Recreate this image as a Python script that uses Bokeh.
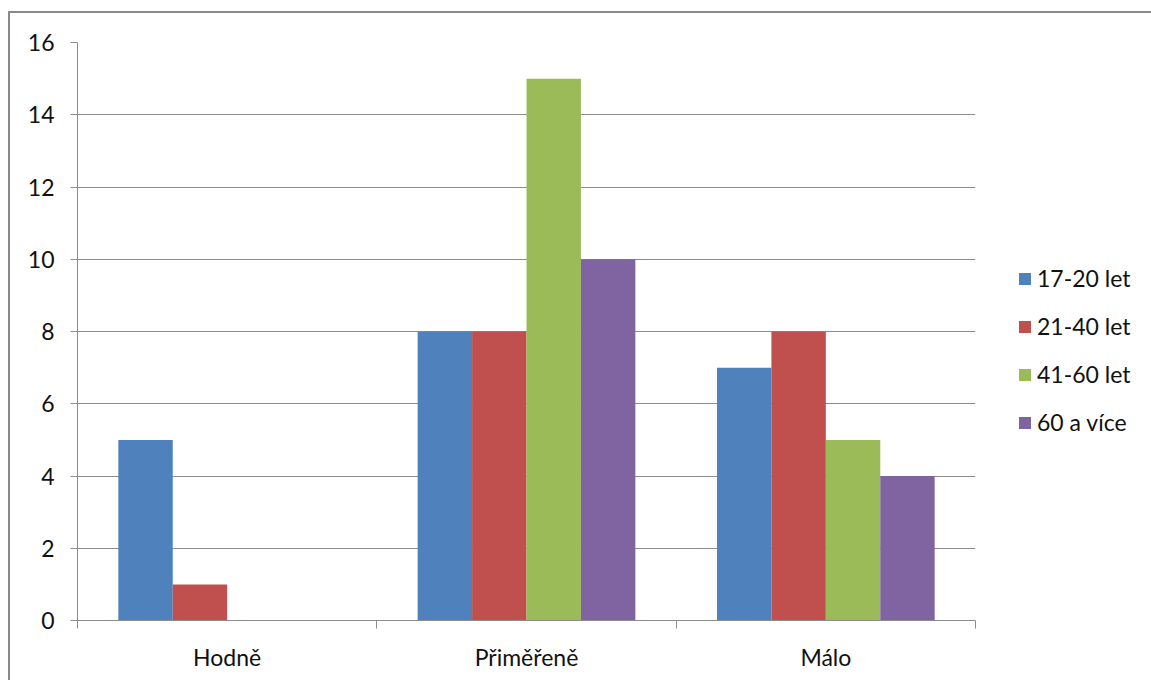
import numpy as np
from bokeh.plotting import figure
from bokeh.models import (ColumnDataSource, FixedTicker, Legend, LegendItem,
                          Range1d, InlineStyleSheet)
from bokeh.embed import file_html
from bokeh.resources import INLINE

categories = ["Hodně", "Přiměřeně", "Málo"]
series_names = ["17-20 let", "21-40 let", "41-60 let", "60 a více"]
v_17_20 = [5, 8, 7]
v_21_40 = [1, 8, 8]
v_41_60 = [0, 15, 5]
v_60_plus = [0, 10, 4]
y_ticks = [0, 2, 4, 6, 8, 10, 12, 14, 16]

series_values = [v_17_20, v_21_40, v_41_60, v_60_plus]
colors = ["#4F81BD", "#C0504D", "#9BBB59", "#8064A2"]

FONT = "Lato"
TEXT = "#111111"
GRID = "#8c8c8c"
FS = "23px"

p = figure(frame_width=898, frame_height=578, output_backend="svg",
           toolbar_location=None,
           x_range=Range1d(0, len(categories)), y_range=Range1d(0, 16),
           min_border_left=77, min_border_right=176, min_border_top=42,
           min_border_bottom=60)
p.outline_line_color = None
p.background_fill_color = "white"
p.border_fill_color = "white"

# gap width 150% between groups, as in a clustered column chart
n = len(series_values)
bar_w = 1.0 / (n + 1.5)
centers = np.arange(len(categories)) + 0.5

items = []
for j, (name, vals, col) in enumerate(zip(series_names, series_values, colors)):
    src = ColumnDataSource(dict(x=centers + (j - (n - 1) / 2) * bar_w, top=vals))
    r = p.vbar(x="x", top="top", bottom=0, width=bar_w, source=src,
               fill_color=col, line_color=None)
    items.append(LegendItem(label=name, renderers=[r]))

# y axis
p.yaxis.ticker = FixedTicker(ticks=y_ticks)
p.yaxis.axis_line_color = GRID
p.yaxis.major_tick_line_color = GRID
p.yaxis.major_tick_out = 7
p.yaxis.major_tick_in = 0
p.yaxis.minor_tick_line_color = None
p.yaxis.major_label_standoff = 16
p.yaxis.major_label_text_font = FONT
p.yaxis.major_label_text_font_size = FS
p.yaxis.major_label_text_color = TEXT

# x axis: labels centred on groups, tick marks on group boundaries
p.xaxis.ticker = FixedTicker(ticks=list(centers),
                             minor_ticks=list(range(len(categories) + 1)))
p.xaxis.major_label_overrides = {float(c): cat for c, cat in zip(centers, categories)}
p.xaxis.axis_line_color = GRID
p.xaxis.major_tick_line_color = None
p.xaxis.minor_tick_line_color = GRID
p.xaxis.minor_tick_out = 8
p.xaxis.minor_tick_in = 0
p.xaxis.major_label_standoff = 14
p.xaxis.major_label_text_font = FONT
p.xaxis.major_label_text_font_size = FS
p.xaxis.major_label_text_color = TEXT

p.xgrid.grid_line_color = None
p.ygrid.ticker = FixedTicker(ticks=y_ticks)
p.ygrid.grid_line_color = GRID

legend = Legend(items=items, location=(42, 184), orientation="vertical",
                glyph_width=15, glyph_height=15, label_standoff=5,
                spacing=20, padding=0, margin=0, border_line_color=None,
                background_fill_alpha=0,
                label_text_font=FONT, label_text_font_size=FS,
                label_text_color=TEXT)
p.add_layout(legend, "right")

# chart area border (left and top edges fall inside the page)
p.stylesheets = [InlineStyleSheet(css="""
:host { position: relative; }
:host::after {
  content: ""; position: absolute; left: 8px; top: 11px;
  width: 1200px; height: 720px; border: 2px solid #8a8a8a;
  pointer-events: none; z-index: 10;
}
""")]

open("out.html", "w").write(file_html(p, INLINE))
